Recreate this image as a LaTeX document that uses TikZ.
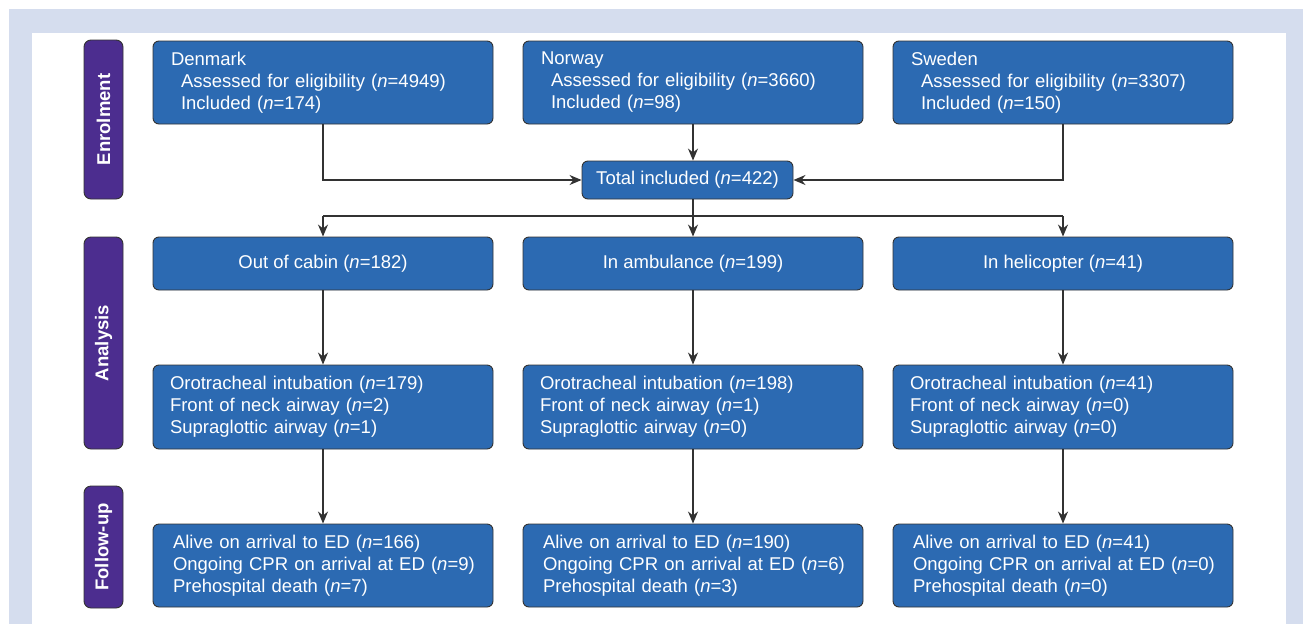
\documentclass[tikz,border=0pt]{standalone}
\usepackage{fontspec}
\setmainfont{Liberation Sans}
\usetikzlibrary{arrows.meta}
\definecolor{boxblue}{RGB}{44,106,178}
\definecolor{labpurple}{RGB}{76,45,143}
\definecolor{framebg}{RGB}{213,221,238}
\definecolor{linegray}{RGB}{50,50,50}
\tikzset{
  bx/.style={draw=black!80, line width=0.9pt, fill=boxblue, rounded corners=6pt,
    text=white, font=\fontsize{18.5}{22}\selectfont, minimum width=340pt, inner ysep=0pt},
  bxleft/.style={bx, align=left, inner xsep=#1, text width=340pt-2*#1},
  bxcenter/.style={bx, align=center},
  lab/.style={draw=black!80, line width=0.9pt, fill=labpurple, rounded corners=7pt,
    text=white, font=\fontsize{18.5}{22}\selectfont\bfseries, rotate=90,
    minimum height=39pt, inner sep=0pt},
  conn/.style={draw=linegray, line width=1.3pt},
  arr/.style={conn, -{Stealth[length=12pt,width=10pt]}},
}
\newcommand{\nn}{\textit{n}}
\begin{document}
\begin{tikzpicture}[x=1pt,y=-1pt]
\useasboundingbox (0,0) rectangle (1303,624);
\fill[framebg] (9,9) rectangle (1303,624);
\fill[white] (32,33) rectangle (1286,624);

% labels
\node[lab, minimum width=159pt] (lenr) at (103.5,119.5) {Enrolment};
\node[lab, minimum width=212pt] (lana) at (103.5,343) {Analysis};
\node[lab, minimum width=122pt] (lfol) at (103.5,547) {Follow-up};

% row 1
\node[bxleft=18pt, minimum height=83pt] (den) at (323,82.5) {Denmark\\\hspace*{10pt}Assessed for eligibility (\nn=4949)\\\hspace*{10pt}Included (\nn=174)};
\node[bxleft=18pt, minimum height=83pt] (nor) at (693,82.5) {Norway\\\hspace*{10pt}Assessed for eligibility (\nn=3660)\\\hspace*{10pt}Included (\nn=98)};
\node[bxleft=18pt, minimum height=83pt] (swe) at (1063,82.5) {Sweden\\\hspace*{10pt}Assessed for eligibility (\nn=3307)\\\hspace*{10pt}Included (\nn=150)};

% total
\node[bxcenter, minimum width=211pt, minimum height=38pt] (tot) at (687.5,180) {Total included (\nn=422)};

% row 2
\node[bxcenter, minimum height=53pt] (cab) at (323,263.5) {Out of cabin (\nn=182)};
\node[bxcenter, minimum height=53pt] (amb) at (693,263.5) {In ambulance (\nn=199)};
\node[bxcenter, minimum height=53pt] (hel) at (1063,263.5) {In helicopter (\nn=41)};

% row 3
\node[bxleft=17pt, minimum height=84pt] (aw1) at (323,407) {Orotracheal intubation (\nn=179)\\Front of neck airway (\nn=2)\\Supraglottic airway (\nn=1)};
\node[bxleft=17pt, minimum height=84pt] (aw2) at (693,407) {Orotracheal intubation (\nn=198)\\Front of neck airway (\nn=1)\\Supraglottic airway (\nn=0)};
\node[bxleft=17pt, minimum height=84pt] (aw3) at (1063,407) {Orotracheal intubation (\nn=41)\\Front of neck airway (\nn=0)\\Supraglottic airway (\nn=0)};

% row 4
\node[bxleft=20pt, minimum height=83pt] (fu1) at (323,565.5) {\mbox{Alive on arrival to ED (\nn=166)}\\\mbox{Ongoing CPR on arrival at ED (\nn=9)}\\\mbox{Prehospital death (\nn=7)}};
\node[bxleft=20pt, minimum height=83pt] (fu2) at (693,565.5) {\mbox{Alive on arrival to ED (\nn=190)}\\\mbox{Ongoing CPR on arrival at ED (\nn=6)}\\\mbox{Prehospital death (\nn=3)}};
\node[bxleft=20pt, minimum height=83pt] (fu3) at (1063,565.5) {\mbox{Alive on arrival to ED (\nn=41)}\\\mbox{Ongoing CPR on arrival at ED (\nn=0)}\\\mbox{Prehospital death (\nn=0)}};

% connectors
\draw[arr] (den.south) |- (tot.west);
\draw[arr] (swe.south) |- (tot.east);
\draw[arr] (nor.south) -- (nor.south |- tot.north);
\coordinate (split) at (0,216);
\draw[conn] (cab.north |- split) -- (hel.north |- split);
\draw[arr] (amb.north |- tot.south) -- (amb.north);
\draw[arr] (cab.north |- split) -- (cab.north);
\draw[arr] (hel.north |- split) -- (hel.north);
\draw[arr] (cab.south) -- (aw1.north);
\draw[arr] (amb.south) -- (aw2.north);
\draw[arr] (hel.south) -- (aw3.north);
\draw[arr] (aw1.south) -- (fu1.north);
\draw[arr] (aw2.south) -- (fu2.north);
\draw[arr] (aw3.south) -- (fu3.north);
\end{tikzpicture}
\end{document}
